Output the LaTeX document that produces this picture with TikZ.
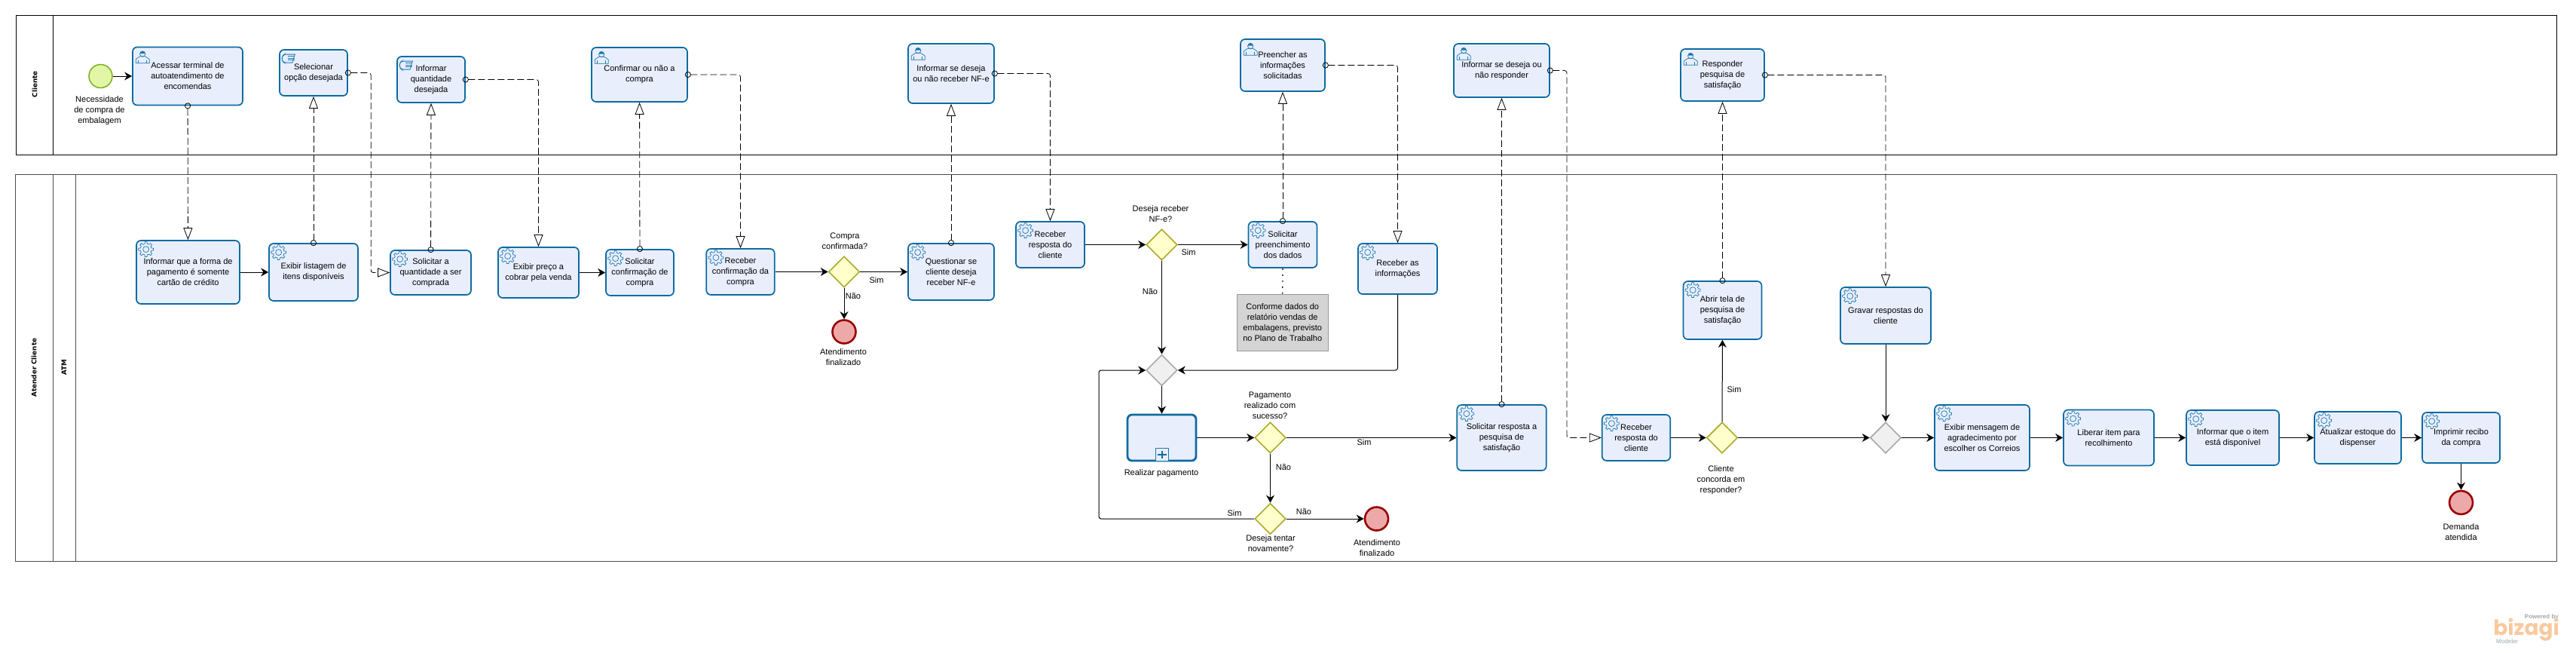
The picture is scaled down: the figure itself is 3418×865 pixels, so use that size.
\documentclass[tikz,border=0pt]{standalone}
\usepackage{fontspec}
\setmainfont{Liberation Sans}
\newfontfamily\lanefont{DejaVu Sans}
\newfontfamily\logofont{Poppins}
\usetikzlibrary{shapes.geometric,arrows.meta,positioning}
\definecolor{taskfill}{HTML}{E9EEFD}
\definecolor{taskline}{HTML}{0B6BA1}
\definecolor{gwfill}{HTML}{FFFFCC}
\definecolor{gwline}{HTML}{ADA92C}
\definecolor{mergefill}{HTML}{F0F0F0}
\definecolor{mergeline}{HTML}{A8A8A8}
\definecolor{startfill}{HTML}{E3F6A6}
\definecolor{startline}{HTML}{76B11E}
\definecolor{endfill}{HTML}{EDA9A9}
\definecolor{endline}{HTML}{990000}
\definecolor{iconline}{HTML}{1B78AE}
\definecolor{logotext}{HTML}{F9C99E}
\definecolor{logogrey}{HTML}{9DA6AE}

\tikzset{
  gearpic/.pic={
    \draw[iconline, line width=0.7pt]
      \foreach \a in {0,45,...,315} {(\a-13:7.5) -- (\a-8:10) -- (\a+8:10) -- (\a+13:7.5) arc[start angle=\a+13, end angle=\a+32, radius=7.5] -- (\a+32:7.5)};
    \draw[iconline, line width=0.7pt] (0,0) circle (4);
  },
  userpic/.pic={
    \fill[iconline] (-3.6,-4.5) arc[start angle=180, end angle=360, radius=3.6] -- cycle;
    \draw[iconline, line width=0.7pt] (0,-4) circle (3.6);
    \draw[iconline, line width=0.7pt] (-9,8) -- (-9,3) .. controls (-8,1) and (-5,1) .. (-3,-1) -- (3,-1) .. controls (5,1) and (8,1) .. (9,3) -- (9,8) -- cycle;
    \draw[iconline, line width=0.7pt] (-5.5,4) -- (-5.5,8) (5.5,4) -- (5.5,8);
  },
  manualpic/.pic={
    \draw[iconline, line width=1pt, rounded corners=3pt] (9,-5.5) -- (-6,-5.5) -- (-9,-3) -- (-9,3) -- (-6,5.5) -- (5,5.5);
    \foreach \v in {-3,-0.5,2} \draw[iconline, line width=1pt] (-1,\v) -- (8,\v);
    \draw[iconline, line width=0.8pt] (8,-5.5) -- (5,5.5);
  }
}

\begin{document}
\begin{tikzpicture}
      [x=1pt, y=-1pt,
      every node/.style={font=\fontsize{11}{14}\selectfont, align=center, inner sep=0pt},
      dims/.style 2 args={minimum width=#1pt, minimum height=#2pt},
      pool/.style={draw=black, line width=1pt},
      poolb/.style={draw=black!70, line width=1pt},
      lane label/.style={rotate=90, font=\lanefont\bfseries\fontsize{8.8}{11}\selectfont},
      task/.style={draw=taskline, fill=taskfill, line width=1.7pt, rounded corners=6pt},
      subtask/.style={task, line width=2.8pt},
      gateway/.style={diamond, aspect=1, draw=gwline, fill=gwfill, line width=1.6pt, minimum width=41pt, minimum height=41pt},
      merge/.style={gateway, draw=mergeline, fill=mergefill},
      start event/.style={ellipse, draw=startline, fill=startfill, line width=1.5pt, minimum width=31pt, minimum height=31pt},
      end event/.style={ellipse, draw=endline, fill=endfill, line width=2.6pt, minimum width=31pt, minimum height=31pt},
      note/.style={fill=black!17, draw=black!40, line width=0.6pt},
      seq/.style={line width=1pt, rounded corners=3pt, -{Stealth[length=10pt,width=11pt]}},
      msg/.style={line width=0.8pt, rounded corners=3pt, dash pattern=on 9pt off 4pt, shorten <=-4pt,
        {Circle[open,length=8pt,width=8pt]}-{Triangle[fill=white,length=16pt,width=12pt]}},
      assoc/.style={line width=1.2pt, dash pattern=on 2pt off 6pt}
      ]
    \useasboundingbox (0,0) rectangle (3418,865);

    % pools
    \node[pool, dims={3371}{185}] (poolCliente) at (1706.5,112.5) {};
    \node[poolb, dims={3371.5}{513}] (poolAtender) at (1706.25,487.5) {};
    \draw[pool] ([xshift=50pt]poolCliente.north west) -- ([xshift=50pt]poolCliente.south west);
    \draw[poolb] ([xshift=50pt]poolAtender.north west) -- ([xshift=50pt]poolAtender.south west);
    \draw[poolb] ([xshift=80pt]poolAtender.north west) -- ([xshift=80pt]poolAtender.south west);
    \node[lane label] (lblCliente) at (46,112) {Cliente};
    \node[lane label] (lblAtender) at (45,487.5) {Atender Cliente};
    \node[lane label] (lblAtm) at (85,487.5) {ATM};

    % cliente
    \node[start event] (inicio) at (133.5,101) {};
    \node (lblInicio) at (132,147) {Necessidade\\de compra de\\embalagem};
    \node[task, dims={146}{77}] (acessar) at (249,101) {Acessar terminal de\\autoatendimento de\\encomendas};
    \node[task, dims={90}{61}] (selecionar) at (416,96.5) {Selecionar\\opção desejada};
    \node[task, dims={90}{61}] (quantidade) at (572,105.5) {Informar\\quantidade\\desejada};
    \node[task, dims={127}{72}] (confirmar) at (848.5,99) {Confirmar ou não a\\compra};
    \node[task, dims={114}{79}] (informarNfe) at (1262,97.5) {Informar se deseja\\ou não receber NF-e};
    \node[task, dims={112}{69}] (preencher) at (1702,86.5) {Preencher as\\informações\\solicitadas};
    \node[task, dims={127}{71}] (informarPesq) at (1992.5,93.5) {Informar se deseja ou\\não responder};
    \node[task, dims={111}{69}] (responder) at (2285.5,99.5) {Responder\\pesquisa de\\satisfação};

    % atm, primeira parte
    \node[task, dims={137}{84}] (informarForma) at (249.5,361) {Informar que a forma de\\pagamento é somente\\cartão de crédito};
    \node[task, dims={118}{76}] (exibirItens) at (416,361) {Exibir listagem de\\itens disponíveis};
    \node[task, dims={107}{59}] (solicitarQtd) at (571.5,361.5) {Solicitar a\\quantidade a ser\\comprada};
    \node[task, dims={107}{67}] (exibirPreco) at (714.5,361.5) {Exibir preço a\\cobrar pela venda};
    \node[task, dims={90}{61}] (solicitarConf) at (849,361.5) {Solicitar\\confirmação de\\compra};
    \node[task, dims={90.5}{61}] (receberConf) at (982.5,360.5) {Receber\\confirmação da\\compra};
    \node[gateway] (gwCompra) at (1120,360.5) {};
    \node (lblCompra) at (1121,320) {Compra\\confirmada?};
    \node (lblCompraSim) at (1163,372) {Sim};
    \node (lblCompraNao) at (1132,393) {Não};
    \node[end event] (fimCompra) at (1120,440) {};
    \node (lblFimCompra) at (1119,474) {Atendimento\\finalizado};
    \node[task, dims={114}{75}] (questionar) at (1262,360.5) {Questionar se\\cliente deseja\\receber NF-e};

    % atm, nf-e e pagamento
    \node[task, dims={91}{61}] (receberNfe) at (1393.5,324.5) {Receber\\resposta do\\cliente};
    \node[gateway] (gwNfe) at (1541.5,324.5) {};
    \node (lblNfe) at (1540,284) {Deseja receber\\NF-e?};
    \node (lblNfeSim) at (1577,335) {Sim};
    \node (lblNfeNao) at (1526,387) {Não};
    \node[task, dims={91}{61}] (solicitarDados) at (1702,324.5) {Solicitar\\preenchimento\\dos dados};
    \node[note, dims={120.5}{75}] (notaDados) at (1701.75,427.5) {Conforme dados do\\relatório vendas de\\embalagens, previsto\\no Plano de Trabalho};
    \node[task, dims={105}{67}] (receberInfo) at (1854.5,356.5) {Receber as\\informações};
    \node[merge] (gwMerge) at (1541.5,491) {};
    \node[subtask, dims={91}{61}] (pagamento) at (1541.5,580.5) {};
    \node[draw=iconline, fill=taskfill, line width=1pt, dims={17}{17}, anchor=south] (marcaPagamento) at (pagamento.south) {};
    \draw[taskline, line width=2pt] ([yshift=-4pt]marcaPagamento.north) -- ([yshift=4pt]marcaPagamento.south);
    \draw[taskline, line width=2pt] ([xshift=3pt]marcaPagamento.west) -- ([xshift=-3pt]marcaPagamento.east);
    \node (lblPagamento) at (1541,628) {Realizar pagamento};
    \node[gateway] (gwPagto) at (1685.5,580.5) {};
    \node (lblPagto) at (1685,538) {Pagamento\\realizado com\\sucesso?};
    \node (lblPagtoSim) at (1810,587) {Sim};
    \node (lblPagtoNao) at (1703,620) {Não};
    \node[gateway] (gwTentar) at (1685.5,688) {};
    \node (lblTentar) at (1686,721) {Deseja tentar\\novamente?};
    \node (lblTentarSim) at (1638,681) {Sim};
    \node (lblTentarNao) at (1730,679) {Não};
    \node[end event] (fimTentar) at (1826.5,688) {};
    \node (lblFimTentar) at (1827,727) {Atendimento\\finalizado};
    \coordinate (voltaPagto) at (1458,600);

    % atm, pesquisa e fim
    \node[task, dims={118.5}{87}] (solicitarPesq) at (1992.5,580.5) {Solicitar resposta a\\pesquisa de\\satisfação};
    \node[task, dims={90.5}{61}] (receberPesq) at (2171,580.5) {Receber\\resposta do\\cliente};
    \node[gateway] (gwConcorda) at (2285,580.5) {};
    \node (lblConcorda) at (2283.5,637) {Cliente\\concorda em\\responder?};
    \node (lblConcordaSim) at (2301,517) {Sim};
    \node[task, dims={104}{77}] (abrirTela) at (2285.5,411.5) {Abrir tela de\\pesquisa de\\satisfação};
    \node[task, dims={120}{75}] (gravar) at (2502,418.5) {Gravar respostas do\\cliente};
    \node[merge] (gwMergeB) at (2502,580.5) {};
    \node[task, dims={126}{87}] (exibirMsg) at (2630,580.5) {Exibir mensagem de\\agradecimento por\\escolher os Correios};
    \node[task, dims={120}{74}] (liberar) at (2798,580.5) {Liberar item para\\recolhimento};
    \node[task, dims={123}{73}] (informarItem) at (2962.5,580.5) {Informar que o item\\está disponível};
    \node[task, dims={115}{69}] (atualizar) at (3128.5,580.5) {Atualizar estoque do\\dispenser};
    \node[task, dims={103}{67}] (imprimir) at (3265.5,580.5) {Imprimir recibo\\da compra};
    \node[end event] (fimDemanda) at (3265.5,666.5) {};
    \node (lblFimDemanda) at (3265.5,706) {Demanda\\atendida};

    % icones
    \foreach \t in {informarForma,exibirItens,solicitarQtd,exibirPreco,solicitarConf,receberConf,questionar,receberNfe,solicitarDados,receberInfo,solicitarPesq,receberPesq,abrirTela,gravar,exibirMsg,liberar,informarItem,atualizar,imprimir}
      \pic at ([shift={(13.5,12.5)}]\t.north west) {gearpic};
    \foreach \t in {acessar,confirmar,informarNfe,preencher,informarPesq,responder}
      \pic at ([shift={(14,14)}]\t.north west) {userpic};
    \foreach \t in {selecionar,quantidade}
      \pic at ([shift={(13,12.5)}]\t.north west) {manualpic};

    % fluxos de sequencia
    \draw[seq] (inicio) -- (acessar);
    \draw[seq] (informarForma) -- (exibirItens);
    \draw[seq] (exibirPreco) -- (solicitarConf);
    \draw[seq] (receberConf) -- (gwCompra);
    \draw[seq] (gwCompra) -- (questionar);
    \draw[seq] (gwCompra) -- (fimCompra);
    \draw[seq] (receberNfe) -- (gwNfe);
    \draw[seq] (gwNfe) -- (solicitarDados);
    \draw[seq] (gwNfe) -- (gwMerge);
    \draw[seq] (receberInfo.south) |- (gwMerge.east);
    \draw[seq] (gwMerge) -- (pagamento);
    \draw[seq] (pagamento) -- (gwPagto);
    \draw[seq] (gwPagto) -- (solicitarPesq);
    \draw[seq] (gwPagto) -- (gwTentar);
    \draw[seq] (gwTentar) -- (fimTentar);
    \draw[seq] (gwTentar.west) -| (voltaPagto) |- (gwMerge.west);
    \draw[seq] (receberPesq) -- (gwConcorda);
    \draw[seq] (gwConcorda) -- (abrirTela);
    \draw[seq] (gwConcorda) -- (gwMergeB);
    \draw[seq] (gravar) -- (gwMergeB);
    \draw[seq] (gwMergeB) -- (exibirMsg);
    \draw[seq] (exibirMsg) -- (liberar);
    \draw[seq] (liberar) -- (informarItem);
    \draw[seq] (informarItem) -- (atualizar);
    \draw[seq] (atualizar) -- (imprimir);
    \draw[seq] (imprimir) -- (fimDemanda);

    % fluxos de mensagem
    \draw[msg] (acessar) -- (informarForma);
    \draw[msg] (exibirItens) -- (selecionar);
    \draw[msg] (selecionar.east) -| ([xshift=-25pt]solicitarQtd.west) -- (solicitarQtd.west);
    \draw[msg] (solicitarQtd) -- (quantidade);
    \draw[msg] (quantidade.east) -| (exibirPreco.north);
    \draw[msg] (solicitarConf) -- (confirmar);
    \draw[msg] (confirmar.east) -| (receberConf.north);
    \draw[msg] (questionar) -- (informarNfe);
    \draw[msg] (informarNfe.east) -| (receberNfe.north);
    \draw[msg] (solicitarDados) -- (preencher);
    \draw[msg] (preencher.east) -| (receberInfo.north);
    \draw[msg] (solicitarPesq) -- (informarPesq);
    \draw[msg] (informarPesq.east) -| ([xshift=-46pt]receberPesq.west) -- (receberPesq.west);
    \draw[msg] (abrirTela) -- (responder);
    \draw[msg] (responder.east) -| (gravar.north);
    \draw[assoc] (solicitarDados.south) -- (notaDados.north);

    % marca
    \node[font=\bfseries\fontsize{8}{9}\selectfont, text=black!35, anchor=base east] (logoPowered) at (3395,820) {Powered by};
    \node[font=\logofont\bfseries\fontsize{28}{28}\selectfont, text=logotext, anchor=base east] (logoBizagi) at (3396,842) {bizagi};
    \node[font=\fontsize{8}{9}\selectfont, text=logogrey, anchor=base west] (logoModeler) at (3312,853) {Modeler};
\end{tikzpicture}
\end{document}
